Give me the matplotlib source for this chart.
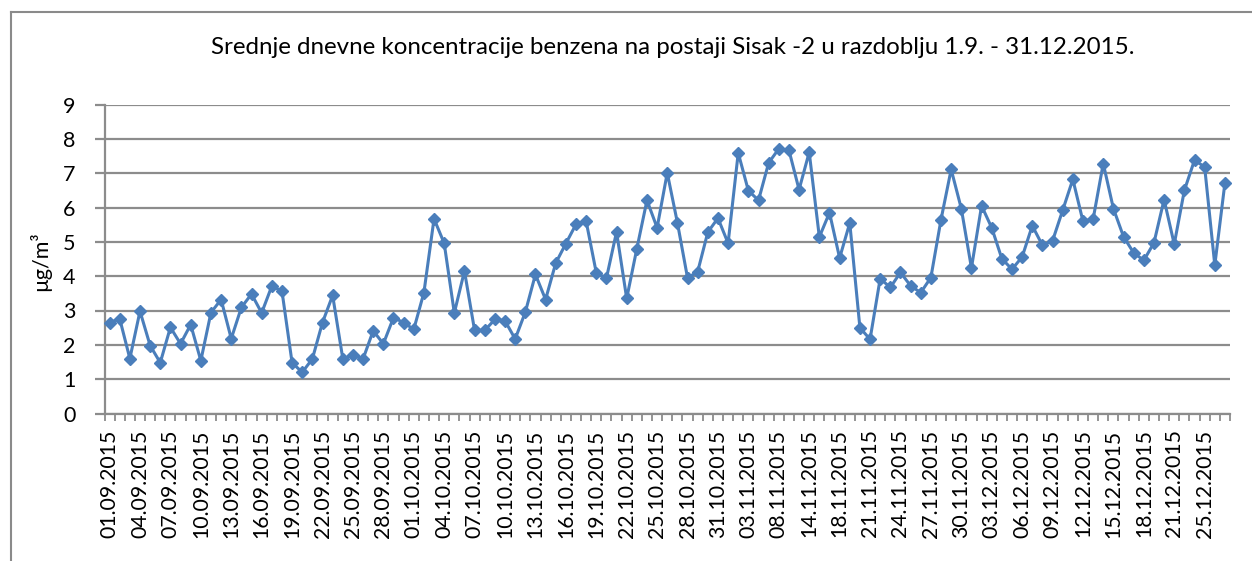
import matplotlib
matplotlib.use("Agg")
import matplotlib.pyplot as plt
from matplotlib.lines import Line2D
import numpy as np

# ---- data -------------------------------------------------------------
values = [
    2.65, 2.76, 1.60, 2.98, 1.98, 1.48, 2.51, 2.03, 2.59, 1.54,
    2.94, 3.32, 2.18, 3.09, 3.48, 2.93, 3.71, 3.57, 1.48, 1.20,
    1.59, 2.65, 3.44, 1.60, 1.70, 1.59, 2.41, 2.03, 2.79, 2.65,
    2.45, 3.52, 5.67, 4.96, 2.93, 4.15, 2.42, 2.42, 2.74, 2.70,
    2.17, 2.95, 4.05, 3.32, 4.38, 4.95, 5.51, 5.60, 4.10, 3.94,
    5.29, 3.35, 4.80, 6.21, 5.41, 7.01, 5.56, 3.95, 4.13, 5.28,
    5.69, 4.96, 7.59, 6.49, 6.21, 7.30, 7.71, 7.67, 6.52, 7.61,
    5.14, 5.85, 4.53, 5.55, 2.50, 2.16, 3.93, 3.67, 4.11, 3.72,
    3.52, 3.96, 5.65, 7.11, 5.97, 4.24, 6.05, 5.41, 4.51, 4.20,
    4.56, 5.47, 4.90, 5.03, 5.92, 6.82, 5.60, 5.66, 7.28, 5.97,
    5.15, 4.68, 4.46, 4.97, 6.23, 4.93, 6.50, 7.38, 7.18, 4.32,
    6.72,
]
tick_labels = [
    "01.09.2015", "04.09.2015", "07.09.2015", "10.09.2015", "13.09.2015",
    "16.09.2015", "19.09.2015", "22.09.2015", "25.09.2015", "28.09.2015",
    "01.10.2015", "04.10.2015", "07.10.2015", "10.10.2015", "13.10.2015",
    "16.10.2015", "19.10.2015", "22.10.2015", "25.10.2015", "28.10.2015",
    "31.10.2015", "03.11.2015", "08.11.2015", "14.11.2015", "18.11.2015",
    "21.11.2015", "24.11.2015", "27.11.2015", "30.11.2015", "03.12.2015",
    "06.12.2015", "09.12.2015", "12.12.2015", "15.12.2015", "18.12.2015",
    "21.12.2015", "25.12.2015",
]
y_ticks = [0, 1, 2, 3, 4, 5, 6, 7, 8, 9]
title = "Srednje dnevne koncentracije benzena na postaji Sisak -2 u razdoblju 1.9. - 31.12.2015."
ylabel = "µg/m³"

# ---- style ------------------------------------------------------------
FONT = ["Lato", "DejaVu Sans"]
plt.rcParams["font.family"] = FONT
LINE_COLOR = "#4a7ebb"
GRID_COLOR = "#8c8c8c"
W, H, DPI = 1252, 561, 100

fig = plt.figure(figsize=(W / DPI, H / DPI), dpi=DPI)
fig.patch.set_facecolor("white")

# plot area in pixels
L, R, T, B = 104.5, 1230, 104.5, 413.5
ax = fig.add_axes([L / W, 1 - B / H, (R - L) / W, (B - T) / H])

x = np.arange(len(values))
ax.plot(x, values, color=LINE_COLOR, lw=2.2, marker="D", markersize=6.5,
        markerfacecolor=LINE_COLOR, markeredgecolor=LINE_COLOR, zorder=3,
        clip_on=False)

ax.set_xlim(-0.5, len(values) - 0.5)
ax.set_ylim(y_ticks[0], y_ticks[-1])

ax.set_yticks(y_ticks)
ax.set_yticklabels([str(v) for v in y_ticks])
ax.yaxis.grid(True, color=GRID_COLOR, lw=1.6)
ax.set_axisbelow(True)
ax.tick_params(axis="y", length=7, width=1.6, color=GRID_COLOR, pad=14,
               labelsize=15.5, labelcolor="black")

label_pos = x[::3][:len(tick_labels)]
ax.set_xticks(label_pos)
ax.set_xticklabels(tick_labels, rotation=90)
ax.set_xticks(np.arange(-0.5, len(values) + 0.5, 1.0), minor=True)
ax.tick_params(axis="x", which="major", length=0, pad=11.5, labelsize=15.3,
               labelcolor="black")
ax.tick_params(axis="x", which="minor", length=5, width=1.3, color=GRID_COLOR)

for s in ["top", "right"]:
    ax.spines[s].set_visible(False)
for s in ["left", "bottom"]:
    ax.spines[s].set_color(GRID_COLOR)
    ax.spines[s].set_linewidth(1.6)

# y label
fig.text(40 / W, 1 - 261 / H, ylabel, rotation=90, ha="center", va="center",
         fontsize=15.5)

# title
fig.text(673 / W, 1 - 48 / H, title, ha="center", va="center", fontsize=17.4)

# chart-area frame (clipped by image on the right and bottom)
fig.add_artist(Line2D([11 / W, 1.0], [1 - 12 / H, 1 - 12 / H],
                      transform=fig.transFigure, color="#8a8a8a", lw=1.5))
fig.add_artist(Line2D([11 / W, 11 / W], [1 - 12 / H, 0.0],
                      transform=fig.transFigure, color="#8a8a8a", lw=1.5))

fig.savefig("out.png", dpi=DPI)
